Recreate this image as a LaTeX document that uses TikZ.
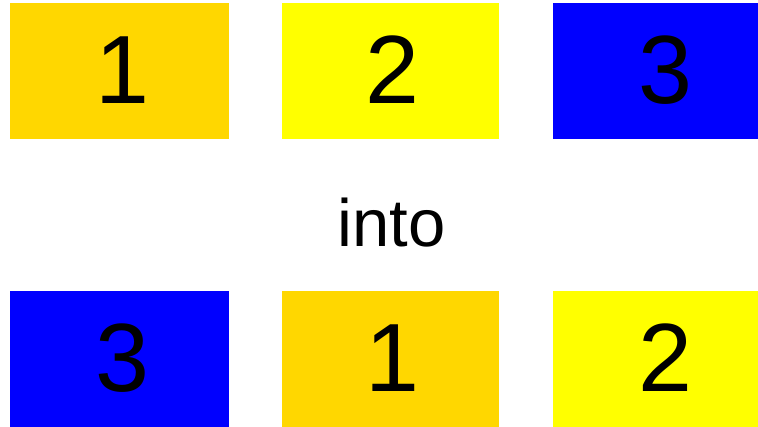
\documentclass[tikz,border=0pt]{standalone}
\usepackage{fontspec}
\setmainfont{Liberation Sans}
\definecolor{cgold}{RGB}{255,215,0}
\definecolor{cyellow}{RGB}{255,255,0}
\definecolor{cblue}{RGB}{0,0,255}
\begin{document}
\begin{tikzpicture}[x=1pt,y=1pt,
  tile/.style={draw=none,minimum width=219pt,minimum height=136pt,inner sep=0pt,anchor=south west},
  digit/.style={anchor=base,inner sep=0pt,font=\fontsize{97}{97}\selectfont}]
\useasboundingbox (0,0) rectangle (758,427);
% top row
\node[tile,fill=cgold] (t1) at (10,288) {};
\node[tile,fill=cyellow,minimum width=217pt] (t2) at (282,288) {};
\node[tile,fill=cblue] (t3) at (553,288) {};
\node[digit] (d1) at ([xshift=2.5pt]t1.center |- 0,323) {1};
\node[digit] (d2) at ([xshift=2pt]t2.center |- 0,323) {2};
\node[digit] (d3) at ([xshift=2.5pt]t3.center |- 0,323) {3};
% middle
\node[anchor=base,inner sep=0pt,font=\fontsize{67}{67}\selectfont] (into) at (391.5,180) {into};
% bottom row
\node[tile,fill=cblue] (b1) at (10,0) {};
\node[tile,fill=cgold,minimum width=217pt] (b2) at (282,0) {};
\node[tile,fill=cyellow] (b3) at (553,0) {};
\node[digit] (e1) at ([xshift=2.5pt]b1.center |- 0,35) {3};
\node[digit] (e2) at ([xshift=2pt]b2.center |- 0,35) {1};
\node[digit] (e3) at ([xshift=2.5pt]b3.center |- 0,35) {2};
\end{tikzpicture}
\end{document}
